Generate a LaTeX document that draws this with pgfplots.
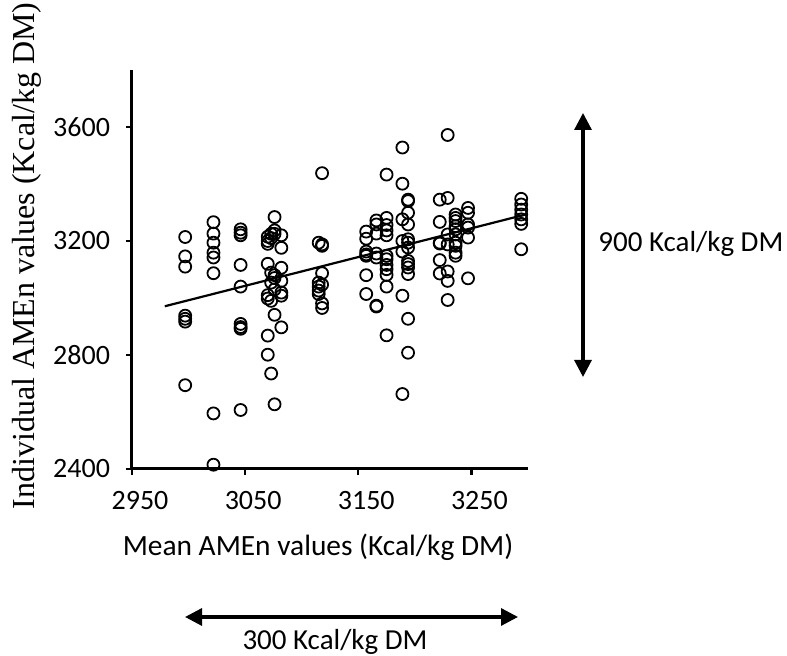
\documentclass[border=0pt]{standalone}
\usepackage{pgfplots}
\pgfplotsset{compat=1.18}
\usepackage{fontspec}
\setmainfont{Carlito}
\newfontfamily\timesfont{Liberation Serif}
\usetikzlibrary{arrows.meta}
\begin{document}
\fontsize{14.5}{17}\selectfont
\begin{tikzpicture}
\useasboundingbox (0pt,0pt) rectangle (393.5pt,328pt);
\begin{axis}[
  at={(66pt,93.5pt)}, anchor=south west,
  width=198pt, height=199.5pt, scale only axis,
  xmin=2950, xmax=3300, ymin=2400, ymax=3800,
  axis x line*=bottom, axis y line*=left,
  axis line style={line width=1.5pt},
  xtick={2950,3050,3150,3250}, ytick={2400,2800,3200,3600},
  tick align=outside, major tick length=3pt,
  tick style={line width=1.2pt, black},
  /pgf/number format/assume math mode=true,
  /pgf/number format/1000 sep={},
  ticklabel style={font=\fontsize{14}{17}\selectfont},
  xticklabel style={yshift=-3pt, xshift=4pt},
  yticklabel style={xshift=-3pt},
  clip=false,
]
\addplot[only marks, mark=o, mark size=3pt, mark options={line width=0.9pt, black}] table {
x y
2997 3214
2997 3146
2997 3110
2997 2938
2997 2927
2997 2917
2997 2694
3022 3266
3022 3226
3022 3194
3022 3159
3022 3142
3022 3087
3022 2595
3022 2415
3046 3241
3046 3229
3046 3220
3046 3116
3046 3040
3046 2909
3046 2898
3046 2892
3046 2607
3070 3215
3070 3200
3070 3190
3070 3120
3070 3010
3070 2998
3070 2868
3070 2801
3073 3225
3073 3210
3073 3089
3073 3054
3073 2990
3073 2735
3076 3284
3076 3237
3076 3225
3076 3080
3076 3070
3076 3030
3076 2941
3076 2627
3082 3220
3082 3176
3082 3106
3082 3060
3082 3019
3082 3008
3082 2897
3115 3194
3115 3054
3115 3026
3115 3014
3115 3040
3118 3438
3118 3188
3118 3183
3118 3087
3118 3047
3118 2981
3118 2965
3157 3233
3157 3208
3157 3163
3157 3153
3157 3148
3157 3080
3157 3014
3166 3272
3166 3258
3166 3226
3166 3156
3166 3142
3166 2973
3166 2970
3175 3433
3175 3281
3175 3256
3175 3237
3175 3220
3175 3148
3175 3136
3175 3116
3175 3101
3175 3081
3175 3040
3175 2869
3189 3528
3189 3401
3189 3276
3189 3200
3189 3163
3189 3008
3189 2663
3194 3345
3194 3340
3194 3299
3194 3258
3194 3206
3194 3194
3194 3177
3194 3130
3194 3119
3194 3107
3194 3084
3194 2927
3194 2808
3222 3345
3222 3267
3222 3194
3222 3191
3222 3133
3222 3086
3229 3572
3229 3351
3229 3223
3229 3188
3229 3093
3229 3060
3229 2993
3236 3293
3236 3281
3236 3270
3236 3252
3236 3241
3236 3223
3236 3194
3236 3183
3236 3159
3236 3148
3247 3316
3247 3299
3247 3258
3247 3247
3247 3212
3247 3069
3294 3348
3294 3328
3294 3310
3294 3293
3294 3276
3294 3260
3294 3171
};
\addplot[line width=1.1pt, black, no marks] coordinates {(2979,2971) (3298,3293)};
\end{axis}
\node[rotate=90, font=\timesfont\fontsize{16}{19}\selectfont] at (13.5pt,200pt) {Individual AMEn values (Kcal/kg DM)};
\node[anchor=base, font=\fontsize{14.7}{17}\selectfont] at (159pt,50pt) {Mean AMEn values (Kcal/kg DM)};
\draw[line width=1.6pt, {Triangle[length=8.5pt,width=8.5pt]}-{Triangle[length=8.5pt,width=8.5pt]}] (92.5pt,19.5pt) -- (259pt,19.5pt);
\node[anchor=base] at (167.5pt,3pt) {300 Kcal/kg DM};
\draw[line width=1.6pt, {Triangle[length=8.5pt,width=8.5pt]}-{Triangle[length=8.5pt,width=8.5pt]}] (291.5pt,139.5pt) -- (291.5pt,271.5pt);
\node[anchor=base west, inner sep=0pt] at (299pt,202.25pt) {900 Kcal/kg DM};
\end{tikzpicture}
\end{document}
